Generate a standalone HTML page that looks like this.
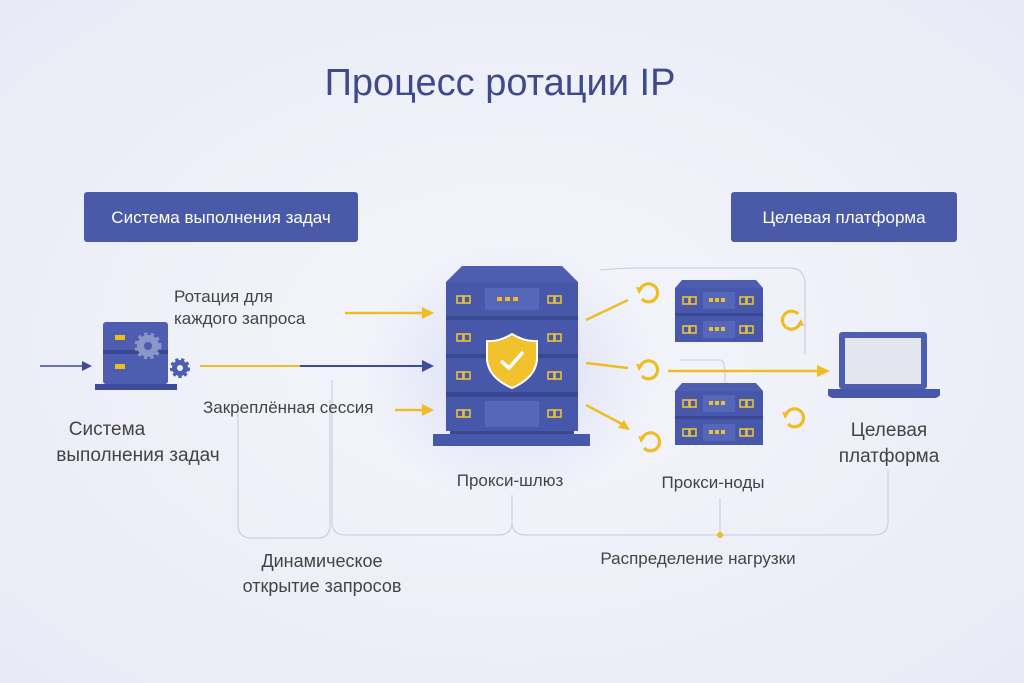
<!DOCTYPE html>
<html><head><meta charset="utf-8"><style>
html,body{margin:0;padding:0;width:1024px;height:683px;overflow:hidden;background:#eef0f8;}
svg{display:block}
text{font-family:"Liberation Sans",sans-serif;}
</style></head><body>
<svg width="1024" height="683" viewBox="0 0 1024 683" xmlns="http://www.w3.org/2000/svg">
<defs>
<radialGradient id="bg" cx="50%" cy="50%" r="70%"><stop offset="0" stop-color="#f5f6fc"/><stop offset="1" stop-color="#e8eaf5"/></radialGradient>
<radialGradient id="glow" cx="50%" cy="50%" r="50%"><stop offset="0" stop-color="#d8dcf3"/><stop offset="1" stop-color="#d8dcf3" stop-opacity="0"/></radialGradient>
<g id="cd"><rect x="0" y="0" width="6" height="7" fill="none" stroke="#e8c13a" stroke-width="1.6"/><rect x="7" y="0" width="6" height="7" fill="none" stroke="#e8c13a" stroke-width="1.6"/></g>
<g id="ref"><path d="M-8,-3 A9,9 0 1 1 -6,6" fill="none" stroke="#efbd22" stroke-width="3.2"/><path d="M-12,-6 L-5,-5 L-9,1 Z" fill="#efbd22"/></g>
</defs>
<rect width="1024" height="683" fill="url(#bg)"/>
<ellipse cx="510" cy="370" rx="150" ry="130" fill="url(#glow)"/>

<text x="500" y="95" text-anchor="middle" font-size="38" fill="#3f4a8c">Процесс ротации IP</text>

<rect x="84" y="192" width="274" height="50" rx="3" fill="#4a5aa8"/>
<text x="221" y="223" text-anchor="middle" font-size="17" fill="#fff">Система выполнения задач</text>
<rect x="731" y="192" width="226" height="50" rx="3" fill="#4a5aa8"/>
<text x="844" y="223" text-anchor="middle" font-size="17" fill="#fff">Целевая платформа</text>

<g fill="none" stroke="#cfd2de" stroke-width="1.3">
<path d="M238,400 V525 Q238,538 252,538 H318 Q330,538 330,525 V400"/>
<path d="M332,380 V522 Q332,535 346,535 H498 Q512,535 512,522 V495"/>
<path d="M512,522 Q512,535 526,535 H874 Q888,535 888,522 V470"/>
<path d="M720,498 V535"/>
<path d="M600,270 Q620,268 640,268 H790 Q805,268 805,285 V355"/>
<path d="M680,360 H720 Q725,360 725,375 V383"/>
</g>
<circle cx="720" cy="535" r="3" fill="#efbd22"/>

<path d="M40,366 H84" stroke="#3e4b9a" stroke-width="1.5"/><path d="M92,366 L82,361 L82,371 Z" fill="#3e4b9a"/>
<rect x="103" y="322" width="65" height="62" rx="3" fill="#4d5db0"/>
<rect x="103" y="350" width="65" height="4" fill="#3a4894"/>
<rect x="115" y="335" width="10" height="5" fill="#efbd22"/><rect x="115" y="364" width="10" height="5" fill="#efbd22"/>
<rect x="95" y="384" width="82" height="6" fill="#3e4b9a"/>
<circle cx="148" cy="346" r="11" fill="#8c95c8" stroke="#8c95c8" stroke-width="5" stroke-dasharray="3 3"/><circle cx="148" cy="346" r="4" fill="#4d5db0"/>
<circle cx="180" cy="368" r="8" fill="#4d5db0" stroke="#4d5db0" stroke-width="4" stroke-dasharray="3 2.5"/><circle cx="180" cy="368" r="3" fill="#eef0f8"/>

<path d="M345,313 H424" stroke="#efbd22" stroke-width="2.5"/><path d="M434,313 L422,307 L422,319 Z" fill="#efbd22"/>
<path d="M200,366 H300" stroke="#efbd22" stroke-width="2"/><path d="M300,366 H424" stroke="#3e4b9a" stroke-width="2"/><path d="M434,366 L422,360 L422,372 Z" fill="#3e4b9a"/>
<path d="M395,410 H424" stroke="#efbd22" stroke-width="2.5"/><path d="M434,410 L422,404 L422,416 Z" fill="#efbd22"/>

<text x="174" y="302" font-size="17" fill="#444">Ротация для</text>
<text x="174" y="324" font-size="17" fill="#444">каждого запроса</text>
<text x="203" y="413" font-size="17" fill="#444">Закреплённая сессия</text>
<text x="107" y="435" text-anchor="middle" font-size="19" fill="#444">Система</text>
<text x="138" y="461" text-anchor="middle" font-size="19" fill="#444">выполнения задач</text>

<path d="M462,266 H562 L578,282 H446 Z" fill="#4d5db0"/>
<g fill="#4757aa">
<rect x="446" y="282" width="132" height="34"/><rect x="446" y="320" width="132" height="34"/><rect x="446" y="358" width="132" height="34"/><rect x="446" y="397" width="132" height="34"/>
</g>
<g fill="#3a4894"><rect x="446" y="316" width="132" height="4"/><rect x="446" y="354" width="132" height="4"/><rect x="446" y="392" width="132" height="5"/><rect x="450" y="431" width="124" height="3"/></g>
<g fill="#5666b8"><rect x="485" y="288" width="54" height="22"/><rect x="485" y="401" width="54" height="26"/></g>
<g fill="#efbd22"><rect x="497" y="297" width="5" height="4"/><rect x="505" y="297" width="5" height="4"/><rect x="513" y="297" width="5" height="4"/></g>
<use href="#cd" x="457" y="296"/><use href="#cd" x="548" y="296"/>
<use href="#cd" x="457" y="334"/><use href="#cd" x="548" y="334"/>
<use href="#cd" x="457" y="372"/><use href="#cd" x="548" y="372"/>
<use href="#cd" x="457" y="410"/><use href="#cd" x="548" y="410"/>
<rect x="433" y="434" width="157" height="12" fill="#4757aa"/>
<path d="M512,334 Q525,342 537,341 V360 Q535,378 512,388 Q489,378 487,360 V341 Q499,342 512,334 Z" fill="#f2c12e" stroke="#fff" stroke-width="2"/>
<path d="M501,361 L509,368 L523,352" fill="none" stroke="#fff" stroke-width="3.5"/>
<text x="510" y="486" text-anchor="middle" font-size="17" fill="#444">Прокси-шлюз</text>

<g stroke="#efbd22" stroke-width="2.5" fill="none">
<path d="M586,320 L628,300"/><path d="M586,363 L628,368"/><path d="M586,405 L622,424"/>
<path d="M668,371 H818"/>
</g>
<path d="M630,430 L618,428 L624,420 Z" fill="#efbd22"/>
<path d="M830,371 L817,365 L817,377 Z" fill="#efbd22"/>
<use href="#ref" x="648" y="293"/><use href="#ref" x="648" y="370"/><use href="#ref" x="650" y="442"/>
<g transform="translate(792,320) rotate(180)"><use href="#ref"/></g>
<use href="#ref" x="794" y="418"/>

<g id="node">
<path d="M682,280 H756 L763,288 H675 Z" fill="#4d5db0"/>
<rect x="675" y="288" width="88" height="25" fill="#4757aa"/><rect x="675" y="313" width="88" height="3" fill="#3a4894"/>
<rect x="675" y="316" width="88" height="26" fill="#4757aa"/>
<rect x="703" y="292" width="32" height="17" fill="#5666b8"/><rect x="703" y="321" width="32" height="17" fill="#5666b8"/>
<use href="#cd" x="683" y="297"/><use href="#cd" x="740" y="297"/><use href="#cd" x="683" y="326"/><use href="#cd" x="740" y="326"/>
<g fill="#e8c13a"><rect x="709" y="298" width="4" height="4"/><rect x="715" y="298" width="4" height="4"/><rect x="721" y="298" width="4" height="4"/><rect x="709" y="327" width="4" height="4"/><rect x="715" y="327" width="4" height="4"/><rect x="721" y="327" width="4" height="4"/></g>
</g>
<use href="#node" y="103"/>
<text x="713" y="488" text-anchor="middle" font-size="17" fill="#444">Прокси-ноды</text>

<rect x="839" y="332" width="88" height="57" rx="3" fill="#4d5db0"/>
<rect x="845" y="338" width="76" height="46" fill="#e3e5ef"/>
<path d="M828,389 H940 V395 Q938,398 934,398 H834 Q830,398 828,395 Z" fill="#4757aa"/>
<text x="889" y="436" text-anchor="middle" font-size="19" fill="#444">Целевая</text>
<text x="889" y="462" text-anchor="middle" font-size="19" fill="#444">платформа</text>

<text x="322" y="567" text-anchor="middle" font-size="18" fill="#444">Динамическое</text>
<text x="322" y="592" text-anchor="middle" font-size="18" fill="#444">открытие запросов</text>
<text x="698" y="564" text-anchor="middle" font-size="17" fill="#444">Распределение нагрузки</text>
</svg>
</body></html>
